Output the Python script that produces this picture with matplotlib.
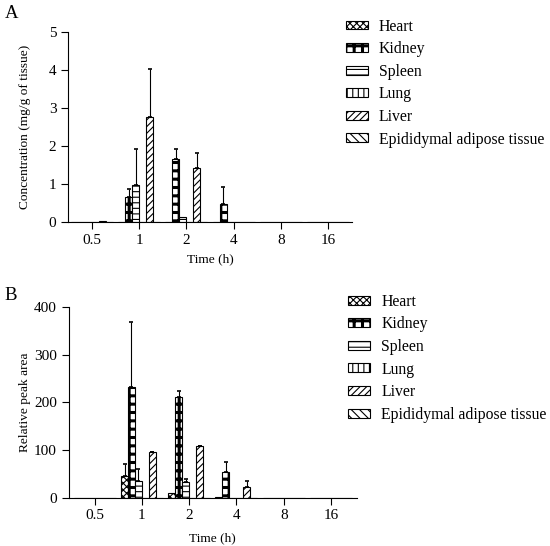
import numpy as np
import matplotlib
matplotlib.use("Agg")
import matplotlib.pyplot as plt

plt.rcParams['font.family'] = ['Liberation Serif', 'DejaVu Serif']
plt.rcParams['hatch.linewidth'] = 0.8

times = ["0.5", "1", "2", "4", "8", "16"]
tissues = ["Heart", "Kidney", "Spleen", "Lung", "Liver", "Epididymal adipose tissue"]
hatches = ["xxxxx", "++", "---", "|||", "/////", "\\\\\\\\"]

# panel A: concentration (mg/g of tissue), mean and upper SD
heart_a = [0, 0, 0, 0, 0, 0]
kidney_a = [0, 0.66, 1.67, 0.48, 0, 0]
spleen_a = [0, 0.98, 0.15, 0, 0, 0]
lung_a = [0, 0, 0, 0, 0, 0]
liver_a = [0.04, 2.76, 1.42, 0, 0, 0]
adipose_a = [0, 0, 0, 0, 0, 0]

heart_a_sd = [0, 0, 0, 0, 0, 0]
kidney_a_sd = [0, 0.21, 0.25, 0.46, 0, 0]
spleen_a_sd = [0, 0.94, 0, 0, 0, 0]
lung_a_sd = [0, 0, 0, 0, 0, 0]
liver_a_sd = [0, 1.27, 0.40, 0, 0, 0]
adipose_a_sd = [0, 0, 0, 0, 0, 0]

# panel B: relative peak area
heart_b = [0, 45, 10, 2, 0, 0]
kidney_b = [0, 232, 211, 54, 0, 0]
spleen_b = [0, 34, 33, 0, 0, 0]
lung_b = [0, 0, 0, 0, 0, 0]
liver_b = [0, 95, 108, 22, 0, 0]
adipose_b = [0, 0, 0, 0, 0, 0]

heart_b_sd = [0, 25, 0, 0, 0, 0]
kidney_b_sd = [0, 137, 12, 20, 0, 0]
spleen_b_sd = [0, 26, 6, 0, 0, 0]
lung_b_sd = [0, 0, 0, 0, 0, 0]
liver_b_sd = [0, 1, 1, 12, 0, 0]
adipose_b_sd = [0, 0, 0, 0, 0, 0]

KIDNEY_LW = 2.2


def set_hatch_lw(patch, lw):
    if hasattr(patch, "set_hatch_linewidth"):
        patch.set_hatch_linewidth(lw)
    else:
        patch._hatch_linewidth = lw


def draw_panel(fig, ax, means, sds, ylabel, ymax, ystep, letter, leg_xy, letter_y,
               ylab_x, xlab_y):
    x = np.arange(len(times))
    w = 0.148
    for i in range(len(tissues)):
        pos = x + (i - 2.5) * w
        bars = ax.bar(pos, means[i], width=w, color="white", edgecolor="black",
                      linewidth=0.8, hatch=hatches[i], label=tissues[i])
        if tissues[i] == "Kidney":
            for b in bars:
                set_hatch_lw(b, KIDNEY_LW)
        err = np.array(sds[i])
        m = np.array(means[i])
        keep = err > 0
        if keep.any():
            ax.errorbar(pos[keep], m[keep], yerr=[np.zeros(keep.sum()), err[keep]],
                        fmt="none", ecolor="black", elinewidth=0.8, capsize=1.5,
                        capthick=1.2)
    ax.set_xticks(x)
    ax.set_xticklabels(times)
    ax.set_ylim(0, ymax)
    ax.set_yticks(np.arange(0, ymax + ystep / 2, ystep))
    ax.spines['top'].set_visible(False)
    ax.spines['right'].set_visible(False)
    ax.tick_params(direction="out", labelsize=11, length=5, width=0.8)
    ax.set_xlabel("Time (h)", fontsize=9.6)
    ax.set_ylabel(ylabel, fontsize=9.6)
    ax.yaxis.set_label_coords(ylab_x, 0.5)
    ax.xaxis.set_label_coords(0.5, xlab_y)
    leg = ax.legend(loc="upper left", bbox_to_anchor=leg_xy,
                    bbox_transform=fig.transFigure, frameon=False,
                    fontsize=11.3, handlelength=1.4, handleheight=0.5,
                    handletextpad=0.7, labelspacing=0.42, borderpad=0,
                    borderaxespad=0)
    for h in leg.get_patches():
        if h.get_hatch() == "++":
            set_hatch_lw(h, KIDNEY_LW)
    fig.text(0.009, letter_y, letter, fontsize=13.5, va="center", ha="left")


fig = plt.figure(figsize=(5.5, 5.46), dpi=100)
ax_a = fig.add_axes([0.124, 0.593, 0.516, 0.348])
ax_a.set_xlim(-0.5, 5.5)
draw_panel(fig, ax_a,
           [heart_a, kidney_a, spleen_a, lung_a, liver_a, adipose_a],
           [heart_a_sd, kidney_a_sd, spleen_a_sd, lung_a_sd, liver_a_sd, adipose_a_sd],
           "Concentration (mg/g of tissue)", 5, 1, "A",
           (0.629, 0.966), 0.975, -0.131, -0.166)

ax_b = fig.add_axes([0.125, 0.0885, 0.524, 0.349])
ax_b.set_xlim(-0.55, 5.55)
draw_panel(fig, ax_b,
           [heart_b, kidney_b, spleen_b, lung_b, liver_b, adipose_b],
           [heart_b_sd, kidney_b_sd, spleen_b_sd, lung_b_sd, liver_b_sd, adipose_b_sd],
           "Relative peak area", 400, 100, "B",
           (0.633, 0.462), 0.458, -0.132, -0.18)

fig.savefig("out.png", dpi=100)
